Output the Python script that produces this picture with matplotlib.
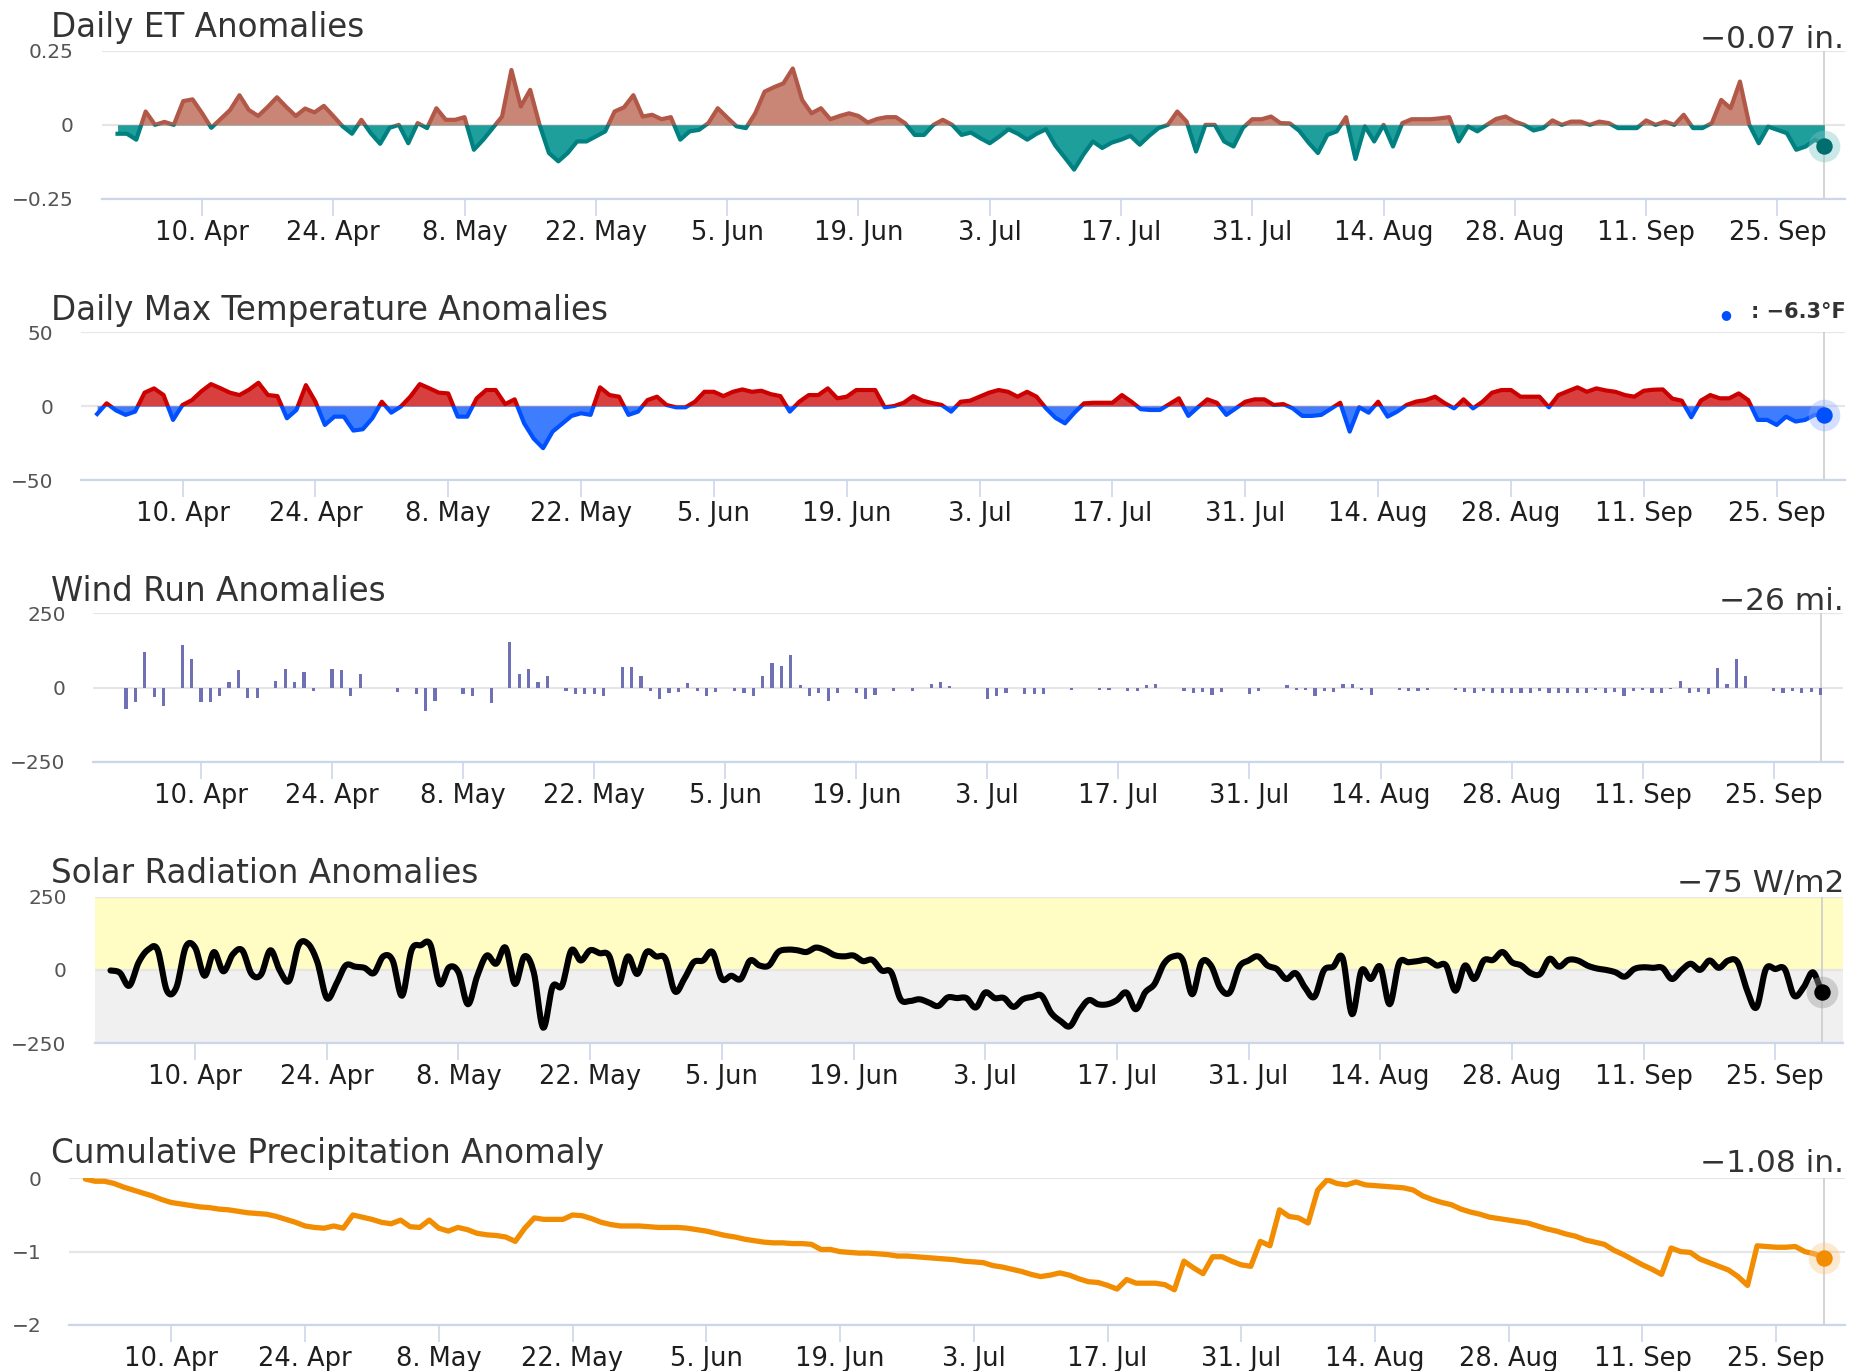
import numpy as np
import pandas as pd
import matplotlib
matplotlib.use("Agg")
import matplotlib.pyplot as plt
import matplotlib.dates as mdates
from matplotlib.patches import Rectangle

# daily series, 1 Apr - 30 Sep
dates = pd.date_range("2017-04-01", "2017-09-30", freq="D")
tick_dates = pd.date_range("2017-04-10", "2017-09-25", freq="14D")

et = [-0.03, -0.03, -0.05, 0.045, 0.0, 0.01, 0.0, 0.08, 0.086, 0.04,
      -0.01, 0.02, 0.05, 0.10, 0.05, 0.03, 0.06, 0.093, 0.06, 0.03,
      0.055, 0.042, 0.064, 0.03, -0.005, -0.03, 0.017, -0.028, -0.064, -0.01,
      0.0, -0.062, 0.006, -0.011, 0.056, 0.017, 0.017, 0.026, -0.084, -0.05,
      -0.011, 0.028, 0.185, 0.062, 0.118, 0.0, -0.095, -0.123, -0.095, -0.056,
      -0.056, -0.039, -0.022, 0.045, 0.059, 0.10, 0.028, 0.034, 0.019, 0.026,
      -0.05, -0.022, -0.017, 0.006, 0.056, 0.025, -0.005, -0.011, 0.039, 0.112,
      0.127, 0.14, 0.19, 0.084, 0.039, 0.056, 0.019, 0.03, 0.039, 0.03,
      0.008, 0.02, 0.026, 0.026, 0.005, -0.034, -0.034, 0.0, 0.017, 0.0,
      -0.034, -0.026, -0.045, -0.062, -0.04, -0.015, -0.03, -0.05, -0.03, -0.015,
      -0.07, -0.11, -0.151, -0.10, -0.056, -0.078, -0.06, -0.05, -0.037, -0.067,
      -0.037, -0.011, 0.0, 0.045, 0.011, -0.09, 0.0, 0.0, -0.056, -0.073,
      -0.01, 0.019, 0.019, 0.028, 0.006, 0.005, -0.02, -0.06, -0.095, -0.034,
      -0.022, 0.026, -0.115, -0.005, -0.056, 0.0, -0.073, 0.006, 0.019, 0.019,
      0.019, 0.022, 0.026, -0.056, -0.005, -0.022, 0.0, 0.02, 0.028, 0.011,
      0.0, -0.019, -0.011, 0.015, 0.0, 0.011, 0.011, 0.0, 0.011, 0.006,
      -0.011, -0.011, -0.011, 0.015, 0.0, 0.011, 0.0, 0.034, -0.011, -0.011,
      0.006, 0.084, 0.056, 0.146, 0.0, -0.062, -0.006, -0.017, -0.028, -0.084,
      -0.073, -0.05, -0.07]

tmax = [-5.4, 1.8, -3, -6, -3.8, 9, 11.9, 7.4, -9.4, 0.7,
        4, 10, 14.8, 12, 9, 7.4, 11, 15.7, 7.4, 6.7,
        -8.3, -2.7, 14.1, 3, -12.8, -7.2, -7.2, -16.6, -15.7, -8.3,
        2.9, -4.5, -0.4, 6.3, 14.8, 12, 9, 8.5, -7.2, -7.2,
        5.2, 10.8, 10.8, 1.3, 4.5, -11.7, -22, -28.5, -17.3, -12,
        -6.7, -4.9, -6, 12.6, 7.4, 6.3, -6, -3.8, 4, 6.3,
        0.7, -0.9, -0.9, 2.9, 9.6, 9.6, 6.7, 9.6, 11.2, 9.6,
        10.3, 8, 6.7, -3.8, 2.9, 7.4, 7.4, 11.9, 5.2, 6.3,
        10.8, 10.8, 10.8, -0.9, 0, 2.2, 6.7, 3.6, 2, 0.7,
        -3.8, 2.9, 3.6, 6.3, 9, 10.8, 9.6, 6.3, 9.6, 6.3,
        -1.6, -8, -11.7, -4.5, 1.8, 2.2, 2.2, 2.2, 7.4, 2.9,
        -2.2, -2.7, -2.7, 1.3, 5.2, -6.7, -0.9, 4.5, 2.2, -6,
        -1.6, 2.9, 4.5, 4.5, 0.7, 1.3, -1.6, -6.7, -6.7, -6,
        -2, 2.2, -17.3, -0.9, -4.5, 2.9, -7.2, -3.8, 0.7, 3,
        4, 6.3, 2, -1.6, 4.5, -1.6, 2.9, 9, 10.8, 10.8,
        6.3, 6.3, 6.3, -0.9, 7.4, 10, 12.6, 9.6, 11.9, 10.5,
        9.6, 7.4, 6.3, 10.3, 11, 11.2, 5, 3.6, -7.6, 3.6,
        7.4, 5.2, 5.2, 8.5, 4, -9.4, -9.4, -12.8, -7.2, -10.5,
        -9.4, -6, -6.3]

wind = [0, -74, -50, 119, -33, -61, 0, 144, 97, -50,
        -48, -28, 19, 58, -37, -37, 0, 22, 63, 19,
        52, -11, 0, 63, 59, -28, 44, 0, 0, 0,
        -14, 0, -22, -78, -44, 0, 0, -22, -28, 0,
        -52, 0, 152, 44, 63, 19, 39, 0, -11, -22,
        -22, -22, -28, 0, 70, 70, 39, -11, -39, -17,
        -14, 14, -11, -28, -14, 0, -11, -17, -28, 39,
        83, 72, 111, 8, -28, -17, -44, -17, 0, -17,
        -39, -26, 0, -11, 0, -11, 0, 11, 17, 6,
        0, 0, 0, -39, -28, -17, 0, -22, -22, -22,
        0, 0, -8, 0, 0, -8, -8, 0, -11, -11,
        8, 11, 0, 0, -11, -17, -14, -26, -14, 0,
        0, -22, -11, 0, 0, 8, -8, -8, -28, -11,
        -14, 11, 13, -8, -26, 0, 0, -8, -11, -11,
        -8, 0, 0, -8, -14, -17, -11, -19, -19, -19,
        -19, -17, -11, -17, -19, -19, -19, -17, -8, -17,
        -14, -28, -11, -8, -17, -17, -6, 22, -17, -14,
        -22, 67, 11, 97, 39, 0, 0, -11, -17, -11,
        -19, -14, -26]

solar = [-2, -10, -54, 26, 69, 69, -71, -60, 78, 76,
         -20, 61, -5, 53, 67, -14, -16, 67, -2, -37,
         84, 89, 26, -96, -48, 15, 11, 7, -11, 46,
         32, -88, 67, 84, 87, -48, 9, -8, -117, -20,
         49, 21, 76, -48, 46, -8, -197, -57, -54, 67,
         32, 67, 57, 49, -48, 46, -14, 61, 46, 38,
         -73, -31, 26, 32, 61, -31, -20, -31, 32, 15,
         15, 61, 69, 67, 61, 76, 67, 50, 46, 49,
         30, 34, -2, -8, -100, -106, -100, -111, -123, -94,
         -96, -96, -128, -77, -96, -96, -126, -100, -92, -88,
         -146, -174, -192, -140, -103, -117, -117, -103, -77, -134,
         -77, -48, 21, 46, 34, -83, 26, 15, -62, -77,
         10, 32, 46, 15, 3, -31, -11, -60, -92, -2,
         11, 41, -151, -2, -31, 11, -117, 23, 26, 30,
         34, 15, 15, -71, 15, -31, 32, 34, 61, 26,
         15, -11, -14, 38, 11, 34, 32, 15, 5, 0,
         -8, -23, 3, 9, 7, 7, -31, -2, 21, 0,
         32, 7, 32, 26, -69, -128, 3, 3, 3, -88,
         -60, -8, -75]

precip = [-0.01, -0.04, -0.04, -0.07, -0.12, -0.16, -0.20, -0.24, -0.29, -0.33,
          -0.35, -0.37, -0.39, -0.40, -0.42, -0.43, -0.45, -0.47, -0.48, -0.49,
          -0.52, -0.56, -0.60, -0.65, -0.67, -0.68, -0.65, -0.68, -0.50, -0.53,
          -0.56, -0.60, -0.62, -0.57, -0.66, -0.67, -0.57, -0.68, -0.72, -0.67,
          -0.70, -0.75, -0.77, -0.78, -0.80, -0.86, -0.68, -0.54, -0.56, -0.56,
          -0.56, -0.50, -0.51, -0.55, -0.60, -0.63, -0.65, -0.65, -0.65, -0.66,
          -0.67, -0.67, -0.67, -0.68, -0.70, -0.72, -0.75, -0.78, -0.80, -0.83,
          -0.85, -0.87, -0.88, -0.88, -0.89, -0.89, -0.90, -0.97, -0.97, -1.00,
          -1.01, -1.02, -1.02, -1.03, -1.04, -1.06, -1.06, -1.07, -1.08, -1.09,
          -1.10, -1.11, -1.13, -1.14, -1.15, -1.19, -1.21, -1.24, -1.27, -1.31,
          -1.34, -1.32, -1.29, -1.32, -1.37, -1.41, -1.42, -1.46, -1.51, -1.38,
          -1.43, -1.43, -1.43, -1.45, -1.52, -1.13, -1.22, -1.30, -1.07, -1.07,
          -1.13, -1.18, -1.20, -0.86, -0.92, -0.43, -0.52, -0.54, -0.61, -0.16,
          -0.02, -0.07, -0.09, -0.05, -0.09, -0.10, -0.11, -0.12, -0.13, -0.16,
          -0.24, -0.29, -0.33, -0.36, -0.42, -0.46, -0.49, -0.53, -0.55, -0.57,
          -0.59, -0.61, -0.65, -0.69, -0.72, -0.76, -0.79, -0.84, -0.87, -0.90,
          -0.98, -1.04, -1.11, -1.18, -1.24, -1.31, -0.95, -1.00, -1.01, -1.10,
          -1.15, -1.20, -1.25, -1.34, -1.46, -0.92, -0.93, -0.94, -0.94, -0.93,
          -1.00, -1.03, -1.08]

W, H = 1852, 1371
fig = plt.figure(figsize=(W / 100, H / 100), dpi=100)

x = mdates.date2num(dates)
xlim = (x[0] - 1.7, x[0] + 184.2)

GRID = "#e6e6e6"
AXIS = "#ccd6eb"
TXT = "#333333"


def make_axes(l, t, r, b, yticks, ylabels, title, title_base, xl=xlim):
    ax = fig.add_axes([l / W, 1 - b / H, (r - l) / W, (b - t) / H])
    ax.set_xlim(*xl)
    ax.set_ylim(yticks[0], yticks[-1])
    ax.set_yticks(yticks, ylabels)
    ax.set_xticks(mdates.date2num(tick_dates))
    ax.xaxis.set_major_formatter(plt.FuncFormatter(
        lambda v, p: f"{mdates.num2date(v).day}. {mdates.num2date(v):%b}"))
    for s in ["top", "left", "right"]:
        ax.spines[s].set_visible(False)
    ax.spines["bottom"].set_color(AXIS)
    ax.spines["bottom"].set_linewidth(1.6)
    ax.grid(axis="y", color=GRID, lw=1.6, zorder=0)
    ax.set_axisbelow(True)
    ax.tick_params(axis="x", direction="out", length=12, width=1.2, color=AXIS,
                   labelsize=18.5, labelcolor="#1e1e1e", pad=3)
    ax.tick_params(axis="y", length=0, labelsize=14.5, labelcolor="#555555", pad=20)
    fig.text(51 / W, 1 - title_base / H, title, fontsize=23.5, color=TXT,
             va="baseline", ha="left")
    ax.axvline(x[-1], color="#cccccc", lw=1.2, zorder=1)
    return ax


def two_tone(ax, y, pos_line, pos_fill, neg_line, neg_fill, lw):
    up = Rectangle((xlim[0] - 5, 0), 400, 1e4, transform=ax.transData)
    dn = Rectangle((xlim[0] - 5, -1e4), 400, 1e4, transform=ax.transData)
    for clip, lc, fc in [(up, pos_line, pos_fill), (dn, neg_line, neg_fill)]:
        f = ax.fill_between(x, y, 0, color=fc, lw=0, zorder=2)
        f.set_clip_path(clip)
        ln, = ax.plot(x, y, color=lc, lw=lw, solid_joinstyle="round", zorder=3)
        ln.set_clip_path(clip)


def spline_path(xv, yv, n=10):
    # Catmull-Rom curve through the daily points, for a smooth line
    xs, ys = [], []
    for i in range(len(xv) - 1):
        y0 = yv[i - 1] if i > 0 else yv[i]
        y3 = yv[i + 2] if i + 2 < len(yv) else yv[i + 1]
        y1, y2 = yv[i], yv[i + 1]
        t = np.linspace(0, 1, n, endpoint=False)
        ys.extend(0.5 * (2 * y1 + (-y0 + y2) * t + (2 * y0 - 5 * y1 + 4 * y2 - y3) * t ** 2
                         + (-y0 + 3 * y1 - 3 * y2 + y3) * t ** 3))
        xs.extend(xv[i] + (xv[i + 1] - xv[i]) * t)
    xs.append(xv[-1])
    ys.append(yv[-1])
    return np.array(xs), np.array(ys)


def end_marker(ax, yv, color, halo):
    ax.scatter([x[-1]], [yv], s=520, color=halo, alpha=0.4, lw=0,
               zorder=5, clip_on=False)
    ax.scatter([x[-1]], [yv], s=140, color=color, lw=0, zorder=6, clip_on=False)


def value_label(text, base, size=22.5):
    fig.text(1844 / W, 1 - base / H, text, fontsize=size, color=TXT,
             ha="right", va="baseline")


# Daily ET
ax1 = make_axes(101.6, 50.7, 1845, 199, [-0.25, 0, 0.25],
                ["\u22120.25", "0", "0.25"], "Daily ET Anomalies", 37)
et = np.array(et)
two_tone(ax1, et, "#b25848", "#c98676", "#008080", "#1f9f9c", 3.0)
end_marker(ax1, et[-1], "#006e6e", "#7fc6c6")
value_label("\u22120.07 in.", 48)

# Daily max temperature
ax2 = make_axes(81, 332, 1845, 480, [-50, 0, 50], ["\u221250", "0", "50"],
                "Daily Max Temperature Anomalies", 320)
tmax = np.array(tmax)
two_tone(ax2, tmax, "#cc0000", "#d84040", "#0050ff", "#3f7dff", 3.0)
end_marker(ax2, tmax[-1], "#0050ff", "#8fb0ff")
fig.text(1731 / W, 1 - 318 / H, "\u25cf", fontsize=9, color="#0050ff",
         ha="right", va="baseline")
fig.text(1846 / W, 1 - 318 / H, ": \u22126.3\u00b0F", fontsize=15,
         fontweight="bold", color=TXT, ha="right", va="baseline")

# Wind run
ax3 = make_axes(93.3, 613.3, 1843, 761.7, [-250, 0, 250],
                ["\u2212250", "0", "250"], "Wind Run Anomalies", 601,
                xl=(x[0] - 2.5, x[0] + 184.4))
ax3.bar(x, wind, width=0.34, color="#7070b4", zorder=3)
value_label("\u221226 mi.", 610)

# Solar radiation
ax4 = make_axes(94.5, 896.5, 1843, 1043.3, [-250, 0, 250],
                ["\u2212250", "0", "250"], "Solar Radiation Anomalies", 883)
ax4.axhspan(0, 250, color="#fffcc4", lw=0, zorder=0.5)
ax4.axhspan(-250, 0, color="#f0f0f0", lw=0, zorder=0.5)
solar = np.array(solar, dtype=float)
sx, sy = spline_path(x, solar)
ax4.plot(sx, sy, color="black", lw=4.4, solid_joinstyle="round",
         solid_capstyle="round", zorder=3)
end_marker(ax4, solar[-1], "black", "#9a9a9a")
value_label("\u221275 W/m2", 892)

# Cumulative precipitation
ax5 = make_axes(69.1, 1178.3, 1845, 1325, [-2, -1, 0],
                ["\u22122", "\u22121", "0"], "Cumulative Precipitation Anomaly", 1163)
precip = np.array(precip)
ax5.plot(x, precip, color="#f28c00", lw=3.8, solid_joinstyle="round",
         solid_capstyle="round", zorder=3)
end_marker(ax5, precip[-1], "#f28c00", "#f9c98a")
value_label("\u22121.08 in.", 1172)

fig.savefig("out.png", dpi=100)
